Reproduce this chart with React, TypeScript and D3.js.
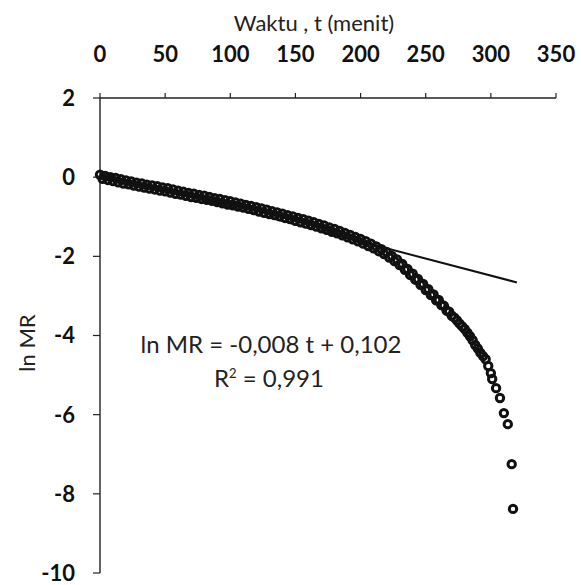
import React from "react";
import { scaleLinear, line } from "d3";

// time (menit) for each measured point
const timeMin = [
  0, 2, 4, 6, 8, 10, 12, 14, 16, 18, 20, 22, 24, 26, 28, 30, 32, 34, 36, 38,
  40, 42, 44, 46, 48, 50, 52, 54, 56, 58, 60, 62, 64, 66, 68, 70, 72, 74, 76, 78,
  80, 82, 84, 86, 88, 90, 92, 94, 96, 98, 100, 102, 104, 106, 108, 110, 112, 114, 116, 118,
  120, 122, 124, 126, 128, 130, 132, 134, 136, 138, 140, 142, 144, 146, 148, 150, 152, 154, 156, 158,
  160, 162, 164, 166, 168, 170, 172, 174, 176, 178, 180, 182, 184, 186, 188, 190, 192, 194, 196, 198,
  200, 202, 204, 206, 208, 210, 212, 214, 216, 218, 220, 222, 224, 226, 228, 230, 232, 234, 236, 238,
  240, 242, 244, 246, 248, 250, 252, 254, 256, 258, 260, 262, 264, 266, 268, 270, 272, 274, 276, 278,
  280, 282, 284, 286, 288, 290, 292, 294, 296, 298, 300, 301, 304, 307, 310, 313, 316, 317,
];

// ln MR (the early band is wide, so the readings scatter)
const lnMR = [
  0.06, -0.04, 0.03, -0.07, 0.0, -0.1, -0.02, -0.13, -0.05, -0.16,
  -0.08, -0.18, -0.11, -0.21, -0.14, -0.24, -0.16, -0.26, -0.19, -0.29,
  -0.21, -0.31, -0.23, -0.34, -0.26, -0.36, -0.28, -0.39, -0.31, -0.42,
  -0.34, -0.44, -0.37, -0.47, -0.4, -0.5, -0.42, -0.52, -0.45, -0.55,
  -0.47, -0.57, -0.5, -0.6, -0.53, -0.63, -0.55, -0.66, -0.58, -0.69,
  -0.61, -0.71, -0.64, -0.74, -0.67, -0.77, -0.7, -0.8, -0.73, -0.83,
  -0.76, -0.87, -0.79, -0.9, -0.82, -0.93, -0.86, -0.96, -0.89, -0.99,
  -0.92, -1.03, -0.96, -1.06, -0.99, -1.1, -1.03, -1.14, -1.06, -1.17,
  -1.1, -1.21, -1.14, -1.25, -1.18, -1.29, -1.22, -1.33, -1.27, -1.38,
  -1.31, -1.42, -1.36, -1.47, -1.41, -1.52, -1.46, -1.57, -1.51, -1.62,
  -1.56, -1.68, -1.62, -1.74, -1.68, -1.8, -1.75, -1.87, -1.82, -1.94,
  -1.89, -2.03, -1.99, -2.12, -2.08, -2.22, -2.19, -2.34, -2.32, -2.47,
  -2.44, -2.59, -2.57, -2.72, -2.7, -2.85, -2.83, -2.98, -2.96, -3.11,
  -3.1, -3.23, -3.25, -3.37, -3.4, -3.5, -3.55, -3.62, -3.7, -3.77,
  -3.84, -3.93, -4.02, -4.12, -4.24, -4.33, -4.44, -4.52, -4.6, -4.77,
  -4.95, -5.1, -5.33, -5.58, -5.96, -6.24, -7.25, -8.38,
];

// linear fit drawn on the chart
const trendT = [0, 320];
const trendLnMR = [0.1, -2.66];

const xTicks = [0, 50, 100, 150, 200, 250, 300, 350];
const yTicks = [2, 0, -2, -4, -6, -8, -10];

const App = () => {
  const width = 581;
  const height = 585;

  const xScale = scaleLinear().domain([0, 350]).range([100, 556]);
  const yScale = scaleLinear().domain([-10, 2]).range([573, 98]);

  const trendPath = line<number>()
    .x((d, i) => xScale(trendT[i]))
    .y((d) => yScale(d))(trendLnMR);

  const font = "Lato, 'Open Sans', sans-serif";

  return (
    <svg
      width={width}
      height={height}
      style={{ position: "absolute", left: 0, top: 0, background: "#fff" }}
      fontFamily={font}
    >
      <rect width={width} height={height} fill="#fff" />

      {/* top x axis */}
      <text x={314} y={31} textAnchor="middle" fontSize={22} fill="#222">
        Waktu , t (menit)
      </text>
      <line x1={xScale(0)} x2={xScale(350)} y1={yScale(2)} y2={yScale(2)} stroke="#222" strokeWidth={1.4} />
      {xTicks.map((t) => (
        <g key={t}>
          <line x1={xScale(t)} x2={xScale(t)} y1={yScale(2)} y2={yScale(2) - 5} stroke="#222" strokeWidth={1.2} />
          <text x={xScale(t)} y={62} textAnchor="middle" fontSize={22} fontWeight="bold" fill="#111">
            {t}
          </text>
        </g>
      ))}

      {/* left y axis */}
      <line x1={xScale(0)} x2={xScale(0)} y1={yScale(2)} y2={yScale(-10)} stroke="#222" strokeWidth={1.4} />
      {yTicks.map((v) => (
        <g key={v}>
          <line x1={xScale(0) - 7} x2={xScale(0)} y1={yScale(v)} y2={yScale(v)} stroke="#222" strokeWidth={1.2} />
          <text x={75} y={yScale(v)} dy="0.36em" textAnchor="end" fontSize={22} fontWeight="bold" fill="#111">
            {v}
          </text>
        </g>
      ))}
      <text
        transform="translate(35, 343) rotate(-90)"
        textAnchor="middle"
        fontSize={22}
        fill="#222"
      >
        ln MR
      </text>

      {/* data points */}
      {lnMR.map((v, i) => (
        <circle
          key={i}
          cx={xScale(timeMin[i])}
          cy={yScale(v)}
          r={3.7}
          fill="none"
          stroke="#111"
          strokeWidth={3}
        />
      ))}

      {/* trend line */}
      <path d={trendPath || ""} fill="none" stroke="#111" strokeWidth={2} />

      {/* equation */}
      <text x={271} y={353} textAnchor="middle" fontSize={24} fill="#222">
        ln MR = -0,008 t + 0,102
      </text>
      <text x={269} y={387} textAnchor="middle" fontSize={24} fill="#222">
        R<tspan dy={-9} fontSize={13}>2</tspan>
        <tspan dy={9}> = 0,991</tspan>
      </text>
    </svg>
  );
};

export default App;
